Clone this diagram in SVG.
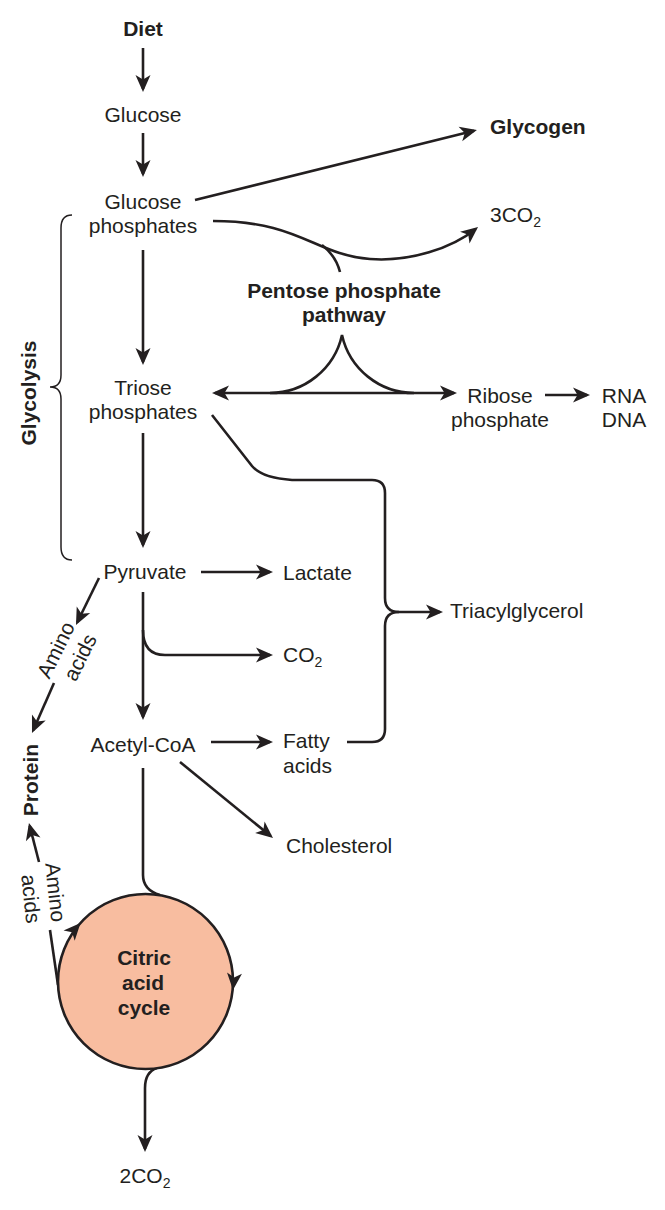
<svg xmlns="http://www.w3.org/2000/svg" width="665" height="1210" viewBox="0 0 665 1210">
<style>
text{font-family:"Liberation Sans",Arial,sans-serif;font-size:21px;fill:#231f20}
.b{font-weight:bold}
.m{text-anchor:middle}
.ln{fill:none;stroke:#231f20;stroke-width:2.6}
.ar{marker-end:url(#ah)}
.brace{fill:none;stroke:#231f20;stroke-width:1.5}
.hd{fill:#231f20}
</style>
<defs>
<marker id="ah" viewBox="-15 -9 19 18" markerWidth="19" markerHeight="18" refX="0" refY="0" orient="auto-start-reverse" markerUnits="userSpaceOnUse">
<path d="M3,0 L-14,-7.5 L-9.5,0 L-14,7.5 Z" fill="#231f20"/>
</marker>
<path id="head" d="M0,0 L-17,-7.5 L-12.5,0 L-17,7.5 Z"/>
</defs>
<rect width="665" height="1210" fill="#ffffff"/>

<g id="connectors">
<path class="ln ar" d="M143,48 L143,89"/>
<path class="ln ar" d="M143,133 L143,174"/>
<path class="ln ar" d="M143,250 L143,362"/>
<path class="ln ar" d="M143,433 L143,545"/>
<path class="ln ar" d="M143,592 L143,717"/>
<path class="ln ar" d="M143,630 Q143,655 165,655 L270,655"/>
<path class="ln ar" d="M201,572 L270,572"/>
<path class="ln ar" d="M211,742 L270,742"/>
<path class="ln ar" d="M180,762 L270.7,836.1"/>
<path class="ln ar" d="M195,200 L474,130.7"/>
<path class="ln ar" d="M213,221 C300,221 315,255 370,259 C410,262 452,248 475.7,228.9"/>
<path class="ln" d="M340,272 Q336,256 322,245"/>
<path class="ln" d="M215,393 L454,393" marker-start="url(#ah)" marker-end="url(#ah)"/>
<path class="ln" d="M270,393 A74,74 0 0 0 342,335 A74,74 0 0 0 414,393"/>
<path class="ln ar" d="M545,395 L587,395"/>
<path class="ln ar" d="M212,415 L252,466 Q262,478 292,480 L372,480 Q385,480 385,493 L385,598 Q385,612 399,612 L440,612"/>
<path class="ln" d="M347,742 L372,742 Q385,742 385,729 L385,626 Q385,612 399,612"/>
<path class="ln" d="M143,768 L143,875 Q143,890 160,895"/>
<path class="ln ar" d="M157,1068 Q145,1072 145,1088 L145,1149"/>
<path class="ln ar" d="M99,578 L77.3,622.3"/>
<path class="ln ar" d="M54,683 L33.2,730.3"/>
<path class="ln" d="M58,985 L50,930"/>
<path class="ln ar" d="M39,862 L29.7,825.9"/>
<path class="brace" d="M72,215 Q61,215 61,228 L61,375 Q61,387 50,387 Q61,387 61,399 L61,547 Q61,560 72,560"/>
</g>

<g id="diet"><text class="b m" x="143" y="36">Diet</text></g>
<g id="glucose"><text class="m" x="143" y="122">Glucose</text></g>
<g id="glucose-phosphates"><text class="m" x="143" y="209">Glucose</text><text class="m" x="143" y="233">phosphates</text></g>
<g id="glycogen"><text class="b" x="490" y="134">Glycogen</text></g>
<g id="co2-3"><text x="490" y="222">3CO<tspan font-size="14" dy="5">2</tspan></text></g>
<g id="pentose"><text class="b m" x="344" y="298">Pentose phosphate</text><text class="b m" x="344" y="322">pathway</text></g>
<g id="triose"><text class="m" x="143" y="395">Triose</text><text class="m" x="143" y="419">phosphates</text></g>
<g id="ribose"><text class="m" x="500" y="403">Ribose</text><text class="m" x="500" y="427">phosphate</text></g>
<g id="rna-dna"><text class="m" x="624" y="403">RNA</text><text class="m" x="624" y="427">DNA</text></g>
<g id="glycolysis"><text class="b m" transform="translate(36,393) rotate(-90)">Glycolysis</text></g>
<g id="pyruvate"><text class="m" x="145" y="579">Pyruvate</text></g>
<g id="lactate"><text x="283" y="580">Lactate</text></g>
<g id="co2"><text x="283" y="662">CO<tspan font-size="14" dy="5">2</tspan></text></g>
<g id="triacylglycerol"><text x="450" y="618">Triacylglycerol</text></g>
<g id="acetyl-coa"><text class="m" x="143" y="752">Acetyl-CoA</text></g>
<g id="fatty-acids"><text x="283" y="748">Fatty</text><text x="283" y="773">acids</text></g>
<g id="cholesterol"><text x="286" y="853">Cholesterol</text></g>
<g id="protein"><text class="b m" transform="translate(38,780) rotate(-90)">Protein</text></g>
<g id="amino-acids-1" transform="translate(67.75,653.5) rotate(-64)"><text class="m" x="-2" y="-5">Amino</text><text class="m" x="2" y="20">acids</text></g>
<g id="amino-acids-2" transform="translate(43.5,895.5) rotate(84)"><text class="m" x="-2" y="-5">Amino</text><text class="m" x="2" y="20">acids</text></g>
<g id="citric-acid-cycle">
<circle cx="145.5" cy="981.5" r="87.5" fill="#f8bda0" stroke="#231f20" stroke-width="2.6"/>
<use href="#head" class="hd" transform="translate(80.5,923) rotate(-48)"/>
<use href="#head" class="hd" transform="translate(233,990) rotate(95)"/>
<text class="b m" x="144" y="965">Citric</text>
<text class="b m" x="143" y="990">acid</text>
<text class="b m" x="144" y="1015">cycle</text>
</g>
<g id="co2-2"><text class="m" x="145" y="1183">2CO<tspan font-size="14" dy="5">2</tspan></text></g>
</svg>
